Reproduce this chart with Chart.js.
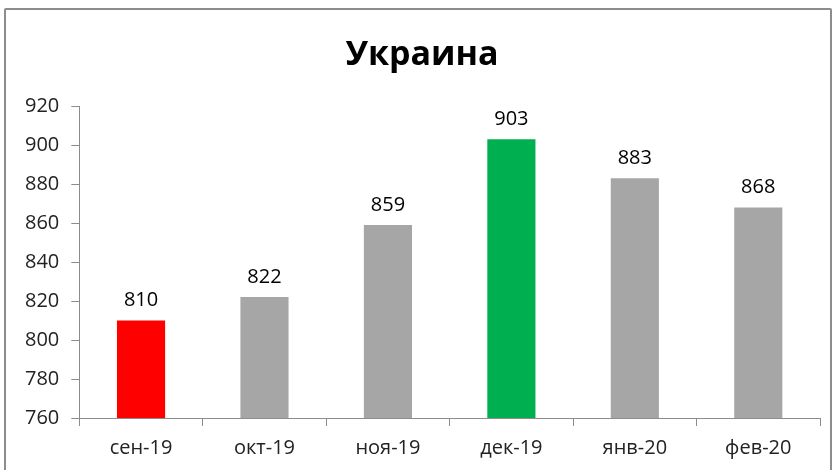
<!DOCTYPE html>
<html>
<head>
<meta charset="utf-8">
<script src="https://cdn.jsdelivr.net/npm/chart.js@4"></script>
<style>
  body { margin: 0; background: #fff; }
  #frame { position: absolute; left: 4px; top: 8px; width: 824px; height: 470px; border: 2px solid #8c8c8c; border-radius: 2px; }
  #wrap { position: absolute; left: 0; top: 0; width: 835px; height: 470px; }
</style>
</head>
<body>
<div id="frame"></div>
<div id="wrap"><canvas id="ukraine"></canvas></div>
<script>
// data
var chartTitle = 'Украина';
var months = ['сен-19', 'окт-19', 'ноя-19', 'дек-19', 'янв-20', 'фев-20'];
var values = [810, 822, 859, 903, 883, 868];
var barColors = ['#ff0000', '#a6a6a6', '#a6a6a6', '#00b050', '#a6a6a6', '#a6a6a6'];
var yTicks = [760, 780, 800, 820, 840, 860, 880, 900, 920];

// value labels above bars + title centred on the whole frame
var barLabels = {
    id: 'barLabels',
    afterDatasetsDraw: function (chart) {
        var ctx = chart.ctx;
        var meta = chart.getDatasetMeta(0);
        ctx.save();
        ctx.font = '20px "Open Sans"';
        ctx.fillStyle = '#000';
        ctx.textAlign = 'center';
        ctx.textBaseline = 'bottom';
        meta.data.forEach(function (bar, i) {
            ctx.fillText(values[i], bar.x, bar.y - 10);
        });

        ctx.font = 'bold 34px "Open Sans"';
        ctx.textBaseline = 'middle';
        ctx.fillText(chartTitle, 422, 55);
        ctx.restore();
    }
};

var ctx = document.getElementById('ukraine').getContext('2d');
var ukraineChart = new Chart(ctx, {
    type: 'bar',
    data: {
        labels: months,
        datasets: [{
            data: values,
            backgroundColor: barColors,
            borderWidth: 0,
            categoryPercentage: 1,
            barPercentage: 0.39
        }]
    },
    options: {
        responsive: true,
        maintainAspectRatio: false,
        animation: false,
        layout: { padding: { left: 13, right: 15, top: 106, bottom: 0 } },
        plugins: {
            legend: { display: false },
            tooltip: { enabled: false },
            title: { display: false }
        },
        scales: {
            x: {
                grid: { display: true, drawOnChartArea: false, offset: true, tickLength: 8, color: '#8c8c8c' },
                border: { display: true, color: '#8c8c8c' },
                ticks: { color: '#222', font: { family: '"Open Sans"', size: 20 }, padding: 10 }
            },
            y: {
                min: yTicks[0],
                max: yTicks[yTicks.length - 1],
                afterBuildTicks: function (axis) {
                    axis.ticks = yTicks.map(function (v) { return { value: v }; });
                },
                grid: { display: true, drawOnChartArea: false, tickLength: 8, color: '#8c8c8c' },
                border: { display: true, color: '#8c8c8c' },
                ticks: { color: '#222', font: { family: '"Open Sans"', size: 20 }, padding: 12 }
            }
        }
    },
    plugins: [barLabels]
});
</script>
</body>
</html>
